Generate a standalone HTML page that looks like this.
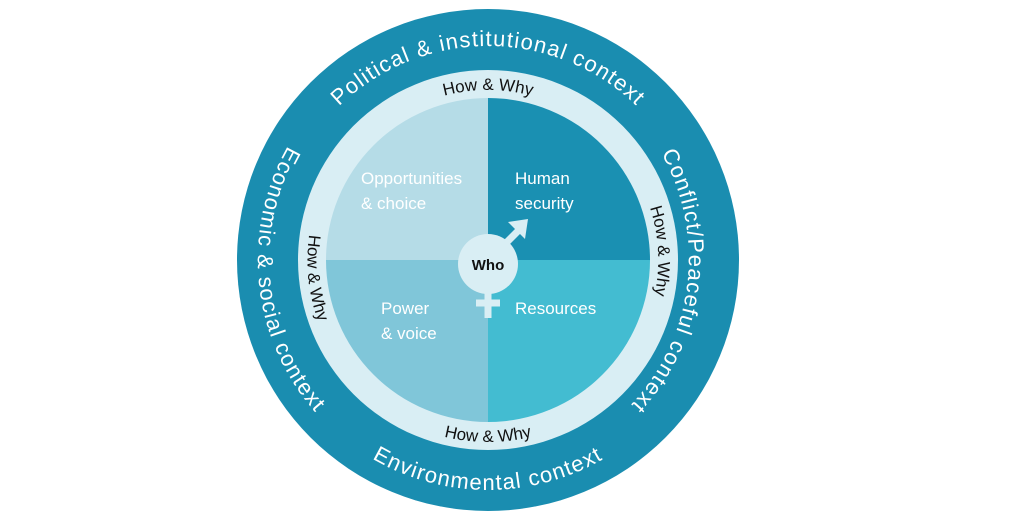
<!DOCTYPE html>
<html><head><meta charset="utf-8"><style>
html,body{margin:0;padding:0;background:#fff;}
svg{display:block}
text{font-family:"Liberation Sans","DejaVu Sans",sans-serif;}
</style></head><body>
<svg width="1024" height="521" viewBox="0 0 1024 521" xmlns="http://www.w3.org/2000/svg">
<defs>
<path id="pTop" d="M274,260 A214,214 0 0 1 702,260"/>
<path id="pRight" d="M514,48 A214,214 0 0 1 462,472"/>
<path id="pLeft" d="M464,31 A230,230 0 0 0 512,489"/>
<path id="pBot" d="M258,260 A230,230 0 0 0 718,260"/>
<path id="hTop" d="M318,260 A170,170 0 0 1 658,260"/>
<path id="hRight" d="M479,90 A170,170 0 0 1 497,430"/>
<path id="hLeft" d="M469,79 A182,182 0 0 0 507,441"/>
<path id="hBot" d="M306,260 A182,182 0 0 0 670,260"/>
</defs>
<circle cx="488" cy="260" r="251" fill="#1a8db0"/>
<circle cx="488" cy="260" r="190" fill="#d9eef4"/>
<path d="M488,260 L326,260 A162,162 0 0 1 488,98 Z" fill="#b5dce7"/>
<path d="M488,260 L488,98 A162,162 0 0 1 650,260 Z" fill="#1a90b2"/>
<path d="M488,260 L650,260 A162,162 0 0 1 488,422 Z" fill="#43bcd1"/>
<path d="M488,260 L488,422 A162,162 0 0 1 326,260 Z" fill="#80c6d9"/>
<g fill="#fff" font-size="22" letter-spacing="1.2">
<text><textPath href="#pTop" startOffset="50%" text-anchor="middle">Political &amp; institutional  context</textPath></text>
<text><textPath href="#pRight" startOffset="50%" text-anchor="middle">Conflict/Peaceful context</textPath></text>
<text><textPath href="#pLeft" startOffset="50%" text-anchor="middle">Economic &amp; social context</textPath></text>
<text><textPath href="#pBot" startOffset="50%" text-anchor="middle">Environmental context</textPath></text>
</g>
<g fill="#111" font-size="17">
<text><textPath href="#hTop" startOffset="50%" text-anchor="middle">How  &amp; Why</textPath></text>
<text><textPath href="#hRight" startOffset="50%" text-anchor="middle">How &amp; Why</textPath></text>
<text><textPath href="#hLeft" startOffset="50%" text-anchor="middle">How &amp; Why</textPath></text>
<text><textPath href="#hBot" startOffset="50%" text-anchor="middle">How &amp; Why</textPath></text>
</g>
<g fill="#fff" font-size="17">
<text x="361" y="184">Opportunities</text>
<text x="361" y="209">&amp; choice</text>
<text x="515" y="184">Human</text>
<text x="515" y="209">security</text>
<text x="381" y="314">Power</text>
<text x="381" y="339">&amp; voice</text>
<text x="515" y="314">Resources</text>
</g>
<g stroke="#d9eef4" stroke-width="7" fill="none">
<line x1="505" y1="244" x2="522" y2="227"/>
<line x1="488" y1="290" x2="488" y2="318"/>
<line x1="476" y1="303" x2="500" y2="303"/>
</g>
<polygon points="528,219 508,222 525,239" fill="#d9eef4"/>
<circle cx="488" cy="264" r="30" fill="#d9eef4"/>
<text x="488" y="270" text-anchor="middle" font-size="15" font-weight="bold" fill="#111">Who</text>
</svg>
</body></html>
